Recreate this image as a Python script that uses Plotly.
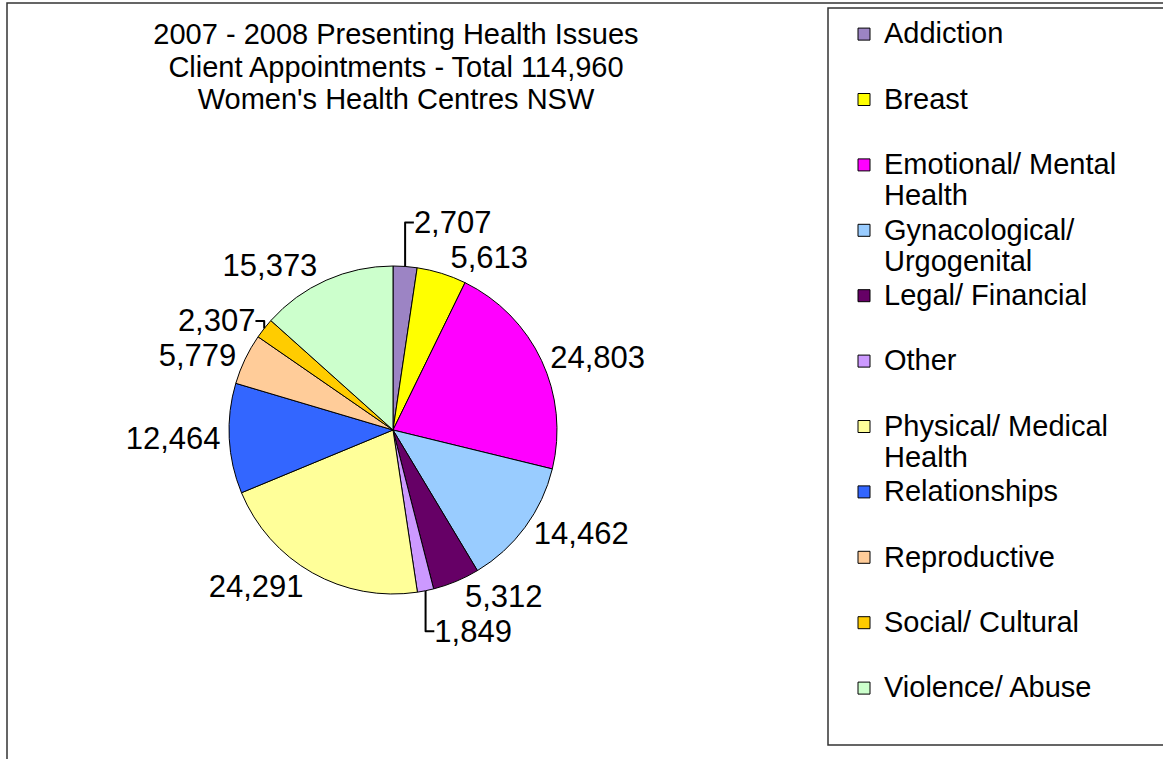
import plotly.graph_objects as go

W, H = 1163, 759

CATEGORIES = ["Addiction", "Breast", "Emotional/ Mental Health", "Gynacological/ Urgogenital",
              "Legal/ Financial", "Other", "Physical/ Medical Health", "Relationships",
              "Reproductive", "Social/ Cultural", "Violence/ Abuse"]
LEGEND_TEXT = ["Addiction", "Breast", "Emotional/ Mental<br>Health", "Gynacological/<br>Urgogenital",
               "Legal/ Financial", "Other", "Physical/ Medical<br>Health", "Relationships",
               "Reproductive", "Social/ Cultural", "Violence/ Abuse"]
VALUES = [2707, 5613, 24803, 14462, 5312, 1849, 24291, 12464, 5779, 2307, 15373]
COLORS = ["#9C84C4", "#FFFF00", "#FF00FF", "#99CCFF", "#660066", "#CC99FF",
          "#FFFF99", "#3366FF", "#FFCC99", "#FFCC00", "#CCFFCC"]
TITLE_LINES = ["2007 - 2008 Presenting Health Issues",
               "Client Appointments - Total 114,960",
               "Women's Health Centres NSW"]

FONT = "Liberation Sans, Arial, sans-serif"

# legend labels: every entry occupies two line slots, text drawn at 29px
legend_labels = []
for t in LEGEND_TEXT:
    lines = t.split("<br>")
    if len(lines) == 1:
        lines.append(" ")
    legend_labels.append("<br>".join('<span style="font-size:29px">%s</span>' % l for l in lines))

title_text = "<br>".join('<span style="font-size:29px">%s</span>' % l for l in TITLE_LINES)

cx, cy, r = 393, 430, 164

fig = go.Figure(go.Pie(
    labels=legend_labels,
    values=VALUES,
    sort=False,
    direction="clockwise",
    rotation=0,
    marker=dict(colors=COLORS, line=dict(color="black", width=1)),
    textposition="outside",
    texttemplate="%{value:,}",
    textfont=dict(family=FONT, size=31, color="black"),
    domain=dict(x=[(cx - r) / W, (cx + r) / W], y=[(H - cy - r) / H, (H - cy + r) / H]),
    hovertext=CATEGORIES,
    hoverinfo="text+value",
))

fig.update_layout(
    width=W, height=H,
    margin=dict(l=0, r=0, t=0, b=0),
    paper_bgcolor="white",
    plot_bgcolor="white",
    title=dict(text=title_text, x=396 / W, xanchor="center", y=1 - 44 / H, yanchor="top",
               font=dict(family=FONT, size=25, color="black")),
    legend=dict(x=844 / W, xanchor="left", y=1 - 12 / H, yanchor="top",
                font=dict(family=FONT, size=24, color="black"),
                valign="top", bgcolor="rgba(0,0,0,0)", borderwidth=0),
    shapes=[
        dict(type="rect", xref="paper", yref="paper", x0=7 / W, x1=1.02, y0=-0.02, y1=1 - 3 / H,
             line=dict(color="#333333", width=1.5)),
        dict(type="rect", xref="paper", yref="paper", x0=828 / W, x1=1.02, y0=1 - 745 / H, y1=1 - 8 / H,
             line=dict(color="#333333", width=1.5)),
    ],
)

fig.write_html("out.html", config={"displayModeBar": False},
               post_script="document.body.style.margin='0';")
